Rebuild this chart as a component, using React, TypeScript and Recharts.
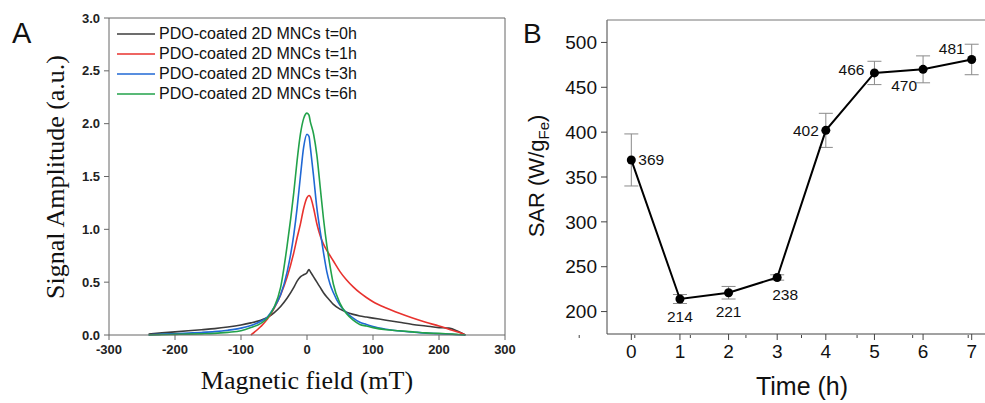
import React from 'react';
import { LineChart, Line, XAxis, YAxis, Legend, ErrorBar, Label, LabelList } from 'recharts';

// panel A: magnetic particle spectra
const fieldMT = [-240, -220, -200, -180, -160, -140, -120, -100, -85, -70, -60, -50, -40, -30, -20, -15, -10, -5, 0, 3, 5, 10, 15, 20, 25, 30, 35, 40, 50, 60, 70, 80, 90, 100, 120, 140, 160, 180, 200, 215, 230, 240];
const ampT0 = [0.01, 0.02, 0.03, 0.04, 0.05, 0.06, 0.075, 0.095, 0.115, 0.14, 0.165, 0.21, 0.27, 0.35, 0.45, 0.51, 0.55, 0.57, 0.59, 0.62, 0.6, 0.55, 0.5, 0.45, 0.4, 0.36, 0.325, 0.29, 0.245, 0.215, 0.195, 0.18, 0.17, 0.16, 0.14, 0.12, 0.1, 0.085, 0.07, 0.065, 0.03, 0];
const ampT1 = [null, null, null, null, null, null, null, null, 0, 0.08, 0.15, 0.25, 0.38, 0.55, 0.78, 0.92, 1.05, 1.2, 1.3, 1.32, 1.31, 1.2, 1.05, 0.94, 0.86, 0.8, 0.75, 0.7, 0.6, 0.52, 0.455, 0.4, 0.355, 0.315, 0.255, 0.205, 0.16, 0.12, 0.085, 0.055, 0.025, 0];
const ampT3 = [0, 0.008, 0.012, 0.018, 0.024, 0.032, 0.045, 0.065, 0.09, 0.13, 0.17, 0.26, 0.38, 0.6, 0.95, 1.2, 1.5, 1.78, 1.9, 1.88, 1.78, 1.5, 1.2, 0.98, 0.78, 0.6, 0.48, 0.4, 0.28, 0.21, 0.16, 0.12, 0.1, 0.08, 0.055, 0.038, 0.028, 0.018, 0.012, 0.008, 0.003, 0];
const ampT6 = [0, 0.004, 0.006, 0.008, 0.011, 0.015, 0.025, 0.04, 0.07, 0.11, 0.16, 0.26, 0.45, 0.85, 1.35, 1.65, 1.9, 2.05, 2.1, 2.08, 2.02, 1.9, 1.7, 1.4, 1.1, 0.85, 0.65, 0.48, 0.3, 0.2, 0.14, 0.1, 0.085, 0.07, 0.05, 0.04, 0.03, 0.02, 0.015, 0.01, 0.005, 0];
const seriesNames = ['PDO-coated 2D MNCs t=0h', 'PDO-coated 2D MNCs t=1h', 'PDO-coated 2D MNCs t=3h', 'PDO-coated 2D MNCs t=6h'];
const seriesKeys = ['t0', 't1', 't3', 't6'];
const fieldTicks = [-300, -200, -100, 0, 100, 200, 300];
const ampTicks = [0, 0.5, 1, 1.5, 2, 2.5, 3];

// panel B: SAR over time
const timeH = [0, 1, 2, 3, 4, 5, 6, 7];
const sar = [369, 214, 221, 238, 402, 466, 470, 481];
const sarErr = [29, 5, 7, 3, 19, 13, 15, 17];
const timeTicks = [0, 1, 2, 3, 4, 5, 6, 7];
const timeMinor = [-0.5, 0.5, 1.5, 2.5, 3.5, 4.5, 5.5, 6.5, 7.5];
const sarTicks = [200, 250, 300, 350, 400, 450, 500];
const sarMinor = [225, 275, 325, 375, 425, 475];

const colors = ['#3c3c3c', '#e8322e', '#2068d4', '#22a24a'];
const sans = 'Arial, "Liberation Sans", sans-serif';
const serif = '"Times New Roman", "Liberation Serif", serif';

const sarLabelPlace = [
  { dx: 7, dy: 5, anchor: 'start' },
  { dx: 0, dy: 23, anchor: 'middle' },
  { dx: 0, dy: 24, anchor: 'middle' },
  { dx: 8, dy: 23, anchor: 'middle' },
  { dx: -7, dy: 6, anchor: 'end' },
  { dx: -10, dy: 2, anchor: 'end' },
  { dx: -6, dy: 22, anchor: 'end' },
  { dx: -7, dy: -5, anchor: 'end' },
];

const spectra = fieldMT.map((f, i) => ({
  field: f,
  t0: ampT0[i],
  t1: ampT1[i],
  t3: ampT3[i],
  t6: ampT6[i],
}));

const sarRows = timeH.map((t, i) => ({ t, sar: sar[i], err: sarErr[i] }));

const LegendA = () => (
  <div style={{ fontFamily: sans, fontSize: 16, color: '#111' }}>
    {seriesNames.map((n, i) => (
      <div key={n} style={{ display: 'flex', alignItems: 'center', height: 20, whiteSpace: 'nowrap' }}>
        <svg width={38} height={20}>
          <line x1={0} x2={38} y1={10} y2={10} stroke={colors[i]} strokeWidth={1.6} />
        </svg>
        <span style={{ marginLeft: 4 }}>{n}</span>
      </div>
    ))}
  </div>
);

const axisA = '#666';
const axisB = '#444';
const tickA = { fontSize: 13, fontWeight: 'bold', fill: '#222', fontFamily: sans };

function PanelA() {
  return (
    <LineChart width={520} height={403} data={spectra} margin={{ top: 17, right: 14, bottom: 67, left: 108 }}>
      <XAxis
        dataKey="field"
        type="number"
        domain={[-300, 300]}
        ticks={fieldTicks}
        interval={0}
        height={1}
        stroke={axisA}
        tickSize={5}
        tickMargin={5}
        tick={tickA}
      >
        <Label
          content={() => (
            <text x={307} y={389} textAnchor="middle" fontSize={26} fontFamily={serif} fill="#111">
              Magnetic field (mT)
            </text>
          )}
        />
      </XAxis>
      <YAxis
        type="number"
        domain={[0, 3]}
        ticks={ampTicks}
        interval={0}
        width={1}
        stroke={axisA}
        tickSize={5}
        tickMargin={4}
        tickFormatter={(v: number) => v.toFixed(1)}
        tick={tickA}
      >
        <Label
          content={() => (
            <g>
              <text x={12} y={43} fontSize={29} fontFamily={sans} fill="#111">A</text>
              <text
                x={64}
                y={177}
                transform="rotate(-90, 64, 177)"
                textAnchor="middle"
                fontSize={26}
                fontFamily={serif}
                fill="#111"
              >
                Signal Amplitude (a.u.)
              </text>
            </g>
          )}
        />
      </YAxis>
      <XAxis xAxisId="top" orientation="top" type="number" domain={[-300, 300]} height={1} stroke={axisA} tick={false} tickLine={false} />
      <YAxis yAxisId="right" orientation="right" type="number" domain={[0, 3]} width={1} stroke={axisA} tick={false} tickLine={false} />
      <Legend
        layout="vertical"
        align="center"
        verticalAlign="middle"
        wrapperStyle={{ left: 117, top: 24, width: 'auto' }}
        content={() => <LegendA />}
      />
      {seriesKeys.map((k, i) => (
        <Line
          key={k}
          dataKey={k}
          name={seriesNames[i]}
          type="monotone"
          stroke={colors[i]}
          strokeWidth={1.6}
          dot={false}
          isAnimationActive={false}
        />
      ))}
    </LineChart>
  );
}

function PanelB() {
  return (
    <LineChart width={520} height={403} data={sarRows} margin={{ top: 19, right: 44, bottom: 67, left: 85 }}>
      <XAxis
        xAxisId="minor"
        type="number"
        domain={[-0.5, 7.5]}
        ticks={timeMinor}
        interval={0}
        height={1}
        axisLine={false}
        stroke={axisB}
        tickSize={3}
        tickFormatter={() => ''}
      />
      <YAxis
        yAxisId="minor"
        type="number"
        domain={[175, 525]}
        ticks={sarMinor}
        interval={0}
        width={1}
        axisLine={false}
        stroke={axisB}
        tickSize={3}
        tickFormatter={() => ''}
      />
      <XAxis
        dataKey="t"
        type="number"
        domain={[-0.5, 7.5]}
        ticks={timeTicks}
        interval={0}
        height={1}
        stroke={axisB}
        tickSize={6}
        tickMargin={5}
        tick={{ fontSize: 19, fill: '#111', fontFamily: sans }}
      >
        <Label
          content={() => (
            <text x={282} y={395} textAnchor="middle" fontSize={25} fontFamily={sans} fill="#111">
              Time (h)
            </text>
          )}
        />
      </XAxis>
      <YAxis
        type="number"
        domain={[175, 525]}
        ticks={sarTicks}
        interval={0}
        width={1}
        stroke={axisB}
        tickSize={6}
        tickMargin={4}
        tick={{ fontSize: 19, fill: '#111', fontFamily: sans }}
      >
        <Label
          content={() => (
            <g>
              <text x={3} y={43} fontSize={28} fontFamily={sans} fill="#111">B</text>
              <text
                x={24}
                y={176}
                transform="rotate(-90, 24, 176)"
                textAnchor="middle"
                fontSize={22}
                fontFamily={sans}
                fill="#111"
              >
                <tspan>SAR (W/g</tspan>
                <tspan dy={5} fontSize={15}>Fe</tspan>
                <tspan dy={-5}>)</tspan>
              </text>
            </g>
          )}
        />
      </YAxis>
      <XAxis xAxisId="top" orientation="top" type="number" domain={[-0.5, 7.5]} height={1} stroke="#777" tick={false} tickLine={false} />
      <Line
        dataKey="sar"
        type="linear"
        stroke="#000"
        strokeWidth={2}
        dot={{ r: 4.5, fill: '#000', stroke: '#000', strokeWidth: 0 }}
        isAnimationActive={false}
      >
        <ErrorBar dataKey="err" width={7} stroke="#8a8a8a" strokeWidth={1} direction="y" />
        <LabelList
          dataKey="sar"
          content={(p: any) => {
            const pl = sarLabelPlace[p.index] || sarLabelPlace[0];
            return (
              <text
                x={Number(p.x) + pl.dx}
                y={Number(p.y) + pl.dy}
                textAnchor={pl.anchor}
                fontSize={15.5}
                fontFamily={sans}
                fill="#111"
              >
                {p.value}
              </text>
            );
          }}
        />
      </Line>
    </LineChart>
  );
}

export default function App() {
  return (
    <div style={{ position: 'fixed', left: 0, top: 0, width: 985, height: 403, overflow: 'hidden', background: '#fff' }}>
      <div style={{ position: 'absolute', left: 0, top: 0 }}>
        <PanelA />
      </div>
      <div style={{ position: 'absolute', left: 520, top: 0 }}>
        <PanelB />
      </div>
    </div>
  );
}
